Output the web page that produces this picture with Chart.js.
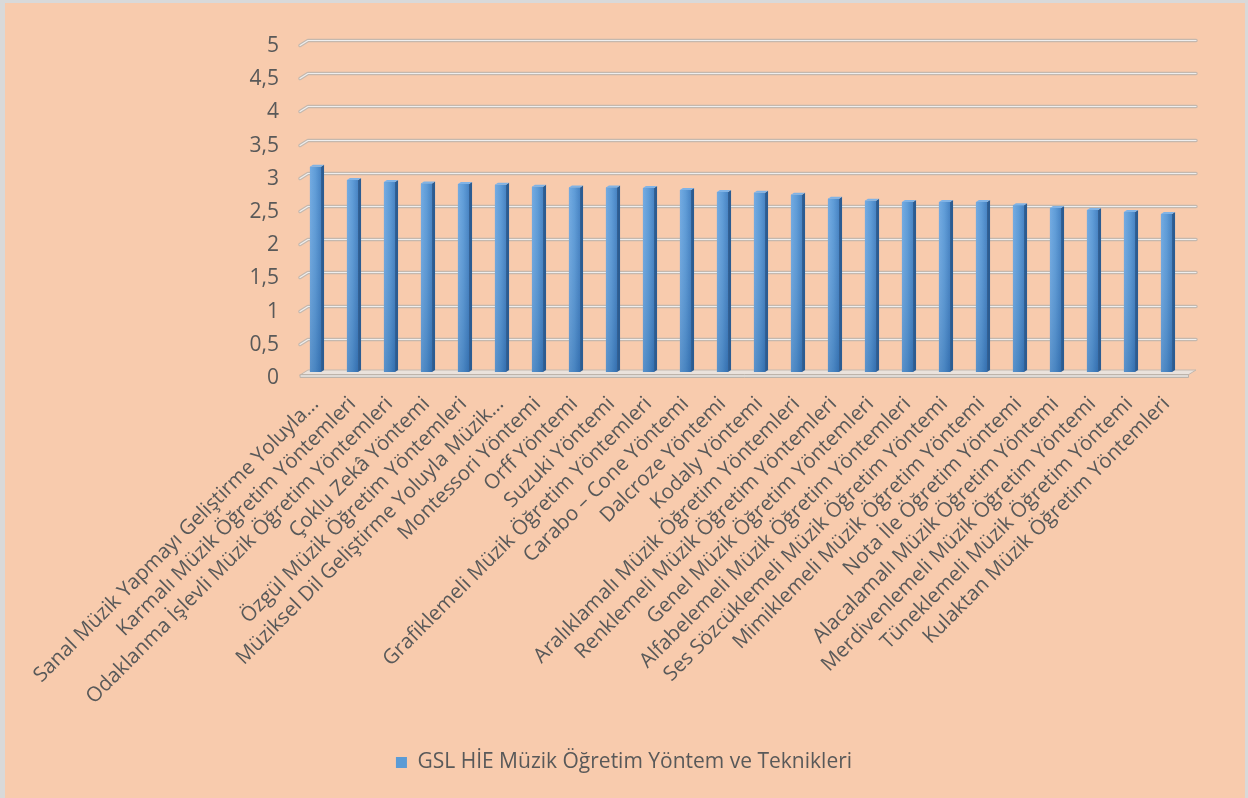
<!DOCTYPE html>
<html>
<head>
<meta charset="utf-8">
<script src="https://cdn.jsdelivr.net/npm/chart.js@4"></script>
<style>
  html, body { margin: 0; padding: 0; background: #d9d9d9; }
  canvas { display: block; }
</style>
</head>
<body>
<canvas id="chart" width="1248" height="798" style="width:1248px;height:798px"></canvas>
<script>
// data
const categories = [
  'Sanal Müzik Yapmayı Geliştirme Yoluyla...',
  'Karmalı Müzik Öğretim Yöntemleri',
  'Odaklanma İşlevli Müzik Öğretim Yöntemleri',
  'Çoklu Zekâ Yöntemi',
  'Özgül Müzik Öğretim Yöntemleri',
  'Müziksel Dil Geliştirme Yoluyla Müzik...',
  'Montessori Yöntemi',
  'Orff Yöntemi',
  'Suzuki Yöntemi',
  'Grafiklemeli Müzik Öğretim Yöntemleri',
  'Carabo – Cone Yöntemi',
  'Dalcroze Yöntemi',
  'Kodaly Yöntemi',
  'Aralıklamalı Müzik Öğretim Yöntemleri',
  'Renklemeli Müzik Öğretim Yöntemleri',
  'Genel Müzik Öğretim Yöntemleri',
  'Alfabelemeli Müzik Öğretim Yöntemleri',
  'Ses Sözcüklemeli Müzik Öğretim Yöntemi',
  'Mimiklemeli Müzik Öğretim Yöntemi',
  'Nota İle Öğretim Yöntemi',
  'Alacalamalı Müzik Öğretim Yöntemi',
  'Merdivenlemeli Müzik Öğretim Yöntemi',
  'Tüneklemeli Müzik Öğretim Yöntemi',
  'Kulaktan Müzik Öğretim Yöntemleri'
];
const values = [3.09, 2.89, 2.86, 2.84, 2.83, 2.82, 2.79, 2.78, 2.78, 2.77, 2.74, 2.71,
                2.70, 2.67, 2.61, 2.58, 2.56, 2.56, 2.56, 2.51, 2.47, 2.44, 2.41, 2.38];
const yTickLabels = ['0', '0,5', '1', '1,5', '2', '2,5', '3', '3,5', '4', '4,5', '5'];
const seriesName = 'GSL HİE Müzik Öğretim Yöntem ve Teknikleri';

const textColor = '#595959';
Chart.defaults.font.family = "'Open Sans', sans-serif";
Chart.defaults.color = textColor;

// peach panel with grey frame
const background = {
  id: 'background',
  beforeDraw(chart) {
    const ctx = chart.ctx;
    ctx.save();
    ctx.fillStyle = '#d9d9d9';
    ctx.fillRect(0, 0, chart.width, chart.height);
    ctx.fillStyle = '#f8cbad';
    ctx.fillRect(5, 3, chart.width - 8, chart.height - 3);
    ctx.restore();
  }
};

// back wall gridlines + floor, 3D-ish
const DX = 11, DY = 5;
const wall = {
  id: 'wall',
  beforeDatasetsDraw(chart) {
    const { ctx, chartArea: a, scales: { y } } = chart;
    ctx.save();
    ctx.lineJoin = 'round';
    ctx.lineCap = 'round';
    y.ticks.forEach(t => {
      if (t.value === 0) return;
      const py = Math.round(y.getPixelForValue(t.value)) + 0.5;
      ctx.beginPath();
      ctx.moveTo(a.left + 3, py + DY);
      ctx.lineTo(a.left + DX, py);
      ctx.lineTo(a.right + DX, py);
      ctx.strokeStyle = '#c4b8ae';
      ctx.lineWidth = 3.5;
      ctx.stroke();
      ctx.strokeStyle = '#eeeeee';
      ctx.lineWidth = 1.2;
      ctx.stroke();
    });
    // floor slab
    const b = y.getPixelForValue(0);
    ctx.beginPath();
    ctx.moveTo(a.left + 3, b + 3);
    ctx.lineTo(a.left + DX, b - 2);
    ctx.lineTo(a.right + DX, b - 2);
    ctx.lineTo(a.right + 3, b + 3);
    ctx.closePath();
    ctx.fillStyle = '#eae2dc';
    ctx.fill();
    ctx.strokeStyle = '#c4b8ae';
    ctx.lineWidth = 1;
    ctx.stroke();
    ctx.fillStyle = '#dedad6';
    ctx.fillRect(a.left + 3, b + 2, a.right - a.left, 3);
    ctx.strokeStyle = '#bdb3aa';
    ctx.strokeRect(a.left + 3.5, b + 2.5, a.right - a.left, 3);
    ctx.restore();
  }
};

// shading, side face and cap of each bar
const bars3d = {
  id: 'bars3d',
  afterDatasetsDraw(chart) {
    const ctx = chart.ctx;
    const meta = chart.getDatasetMeta(0);
    ctx.save();
    meta.data.forEach(el => {
      const { x, y, base, width } = el.getProps(['x', 'y', 'base', 'width'], true);
      const l = x - width / 2, r = x + width / 2;
      const g = ctx.createLinearGradient(l, 0, r, 0);
      g.addColorStop(0, '#6ba6e0');
      g.addColorStop(0.5, '#5596d5');
      g.addColorStop(1, '#3c7cc0');
      ctx.fillStyle = g;
      ctx.fillRect(l, y, width, base - y);
      const v = ctx.createLinearGradient(0, y, 0, base);
      v.addColorStop(0, 'rgba(255,255,255,0.06)');
      v.addColorStop(1, 'rgba(20,60,110,0.2)');
      ctx.fillStyle = v;
      ctx.fillRect(l, y, width, base - y);
      // side
      ctx.beginPath();
      ctx.moveTo(r, y);
      ctx.lineTo(r + 3, y - 2);
      ctx.lineTo(r + 3, base - 2);
      ctx.lineTo(r, base);
      ctx.closePath();
      ctx.fillStyle = '#2b5c92';
      ctx.fill();
      // cap
      ctx.beginPath();
      ctx.moveTo(l, y);
      ctx.lineTo(l + 3, y - 2);
      ctx.lineTo(r + 3, y - 2);
      ctx.lineTo(r, y);
      ctx.closePath();
      ctx.fillStyle = '#80b3e6';
      ctx.fill();
    });
    ctx.restore();
  }
};

new Chart(document.getElementById('chart'), {
  type: 'bar',
  data: {
    labels: categories,
    datasets: [{
      label: seriesName,
      data: values,
      backgroundColor: '#5b9bd5',
      borderWidth: 0,
      categoryPercentage: 1,
      barPercentage: 0.3
    }]
  },
  options: {
    responsive: false,
    animation: false,
    layout: { padding: { top: 40, right: 0, bottom: 15, left: 0 } },
    plugins: {
      tooltip: { enabled: false },
      legend: {
        position: 'bottom',
        labels: {
          boxWidth: 11,
          boxHeight: 11,
          font: { size: 21 },
          color: textColor,
          generateLabels(chart) {
            return Chart.defaults.plugins.legend.labels.generateLabels(chart).map(item => {
              item.fillStyle = '#5b9bd5';
              item.strokeStyle = '#5b9bd5';
              item.lineWidth = 0;
              return item;
            });
          }
        }
      }
    },
    scales: {
      x: {
        grid: { display: false, drawTicks: false },
        border: { display: false },
        ticks: {
          autoSkip: false,
          maxRotation: 45,
          minRotation: 45,
          padding: 20,
          font: { size: 20.5 },
          color: textColor
        },
        afterFit(scale) {
          scale.height = 370;
          scale.paddingLeft = 0;
          scale.paddingRight = 0;
        }
      },
      y: {
        min: 0,
        max: 5,
        grid: { display: false, drawTicks: false },
        border: { display: false },
        ticks: {
          stepSize: 0.5,
          padding: 18,
          labelOffset: 6,
          font: { size: 21 },
          color: textColor,
          callback: (v, i) => yTickLabels[i]
        },
        afterFit(scale) {
          scale.width = 297;
          scale.paddingTop = 0;
          scale.paddingBottom = 0;
        }
      },
      // empty right-hand strip so the legend centres on the whole panel
      yRight: {
        position: 'right',
        min: 0,
        max: 5,
        grid: { display: false, drawTicks: false },
        border: { display: false },
        ticks: { display: false },
        afterFit(scale) {
          scale.width = 63;
          scale.paddingTop = 0;
          scale.paddingBottom = 0;
        }
      }
    }
  },
  plugins: [background, wall, bars3d]
});
</script>
</body>
</html>
